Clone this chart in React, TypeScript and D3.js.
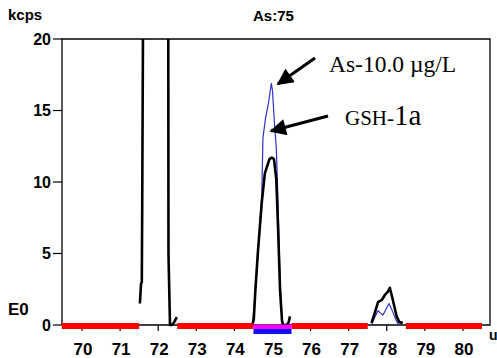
import React from "react";
import * as d3 from "d3";

// mass (u) / kcps pairs, one array per acquisition window
const gshWindow72: [number, number][] = [
  [71.52, 1.5], [71.55, 2.9], [71.57, 3.0], [71.58, 8], [71.6, 20], [71.62, 30],
  [72.24, 30], [72.265, 20], [72.27, 5], [72.31, 0], [72.36, 0], [72.42, 0.2], [72.49, 0.55],
];
const gshWindow75: [number, number][] = [
  [74.47, 0], [74.51, 0.4], [74.55, 2.4], [74.62, 5.2], [74.72, 8.6], [74.8, 10.6],
  [74.92, 11.6], [74.98, 11.7], [75.04, 11.6], [75.1, 10.2], [75.15, 6.5], [75.2, 2.4],
  [75.25, 0.3], [75.28, 0], [75.36, 0], [75.42, 0.15], [75.46, 0.6],
];
const gshWindow78: [number, number][] = [
  [77.6, 0.15], [77.68, 0.8], [77.77, 1.6], [77.87, 1.75], [77.95, 2.1], [78.02, 2.3],
  [78.08, 2.6], [78.16, 1.75], [78.26, 0.6], [78.33, 0.2], [78.42, 0.15],
];
const asWindow75: [number, number][] = [
  [74.47, 0], [74.55, 2.2], [74.65, 6.2], [74.72, 9.2], [74.75, 13.1], [74.82, 14.5],
  [74.9, 15.6], [74.97, 16.9], [75.0, 16.4], [75.05, 14.2], [75.1, 12.4], [75.14, 9.2],
  [75.2, 3.0], [75.26, 0], [75.3, 0],
];
const asWindow78: [number, number][] = [
  [77.6, 0], [77.68, 0.5], [77.77, 1.0], [77.83, 0.85], [77.9, 0.7], [77.98, 1.1],
  [78.06, 1.5], [78.16, 0.9], [78.22, 0.5], [78.27, 0.2], [78.32, 0],
];

const redWindows: [number, number][] = [[69.47, 71.5], [72.5, 74.5], [75.5, 77.5], [78.5, 80.5]];
const integrationWindow: [number, number] = [74.5, 75.5];

const xTicks = [70, 71, 72, 73, 74, 75, 76, 77, 78, 79, 80];
const yTicks = [0, 5, 10, 15, 20];

const W = 497;
const H = 358;
const left = 62;
const right = 490;
const top = 39;
const bottom = 325;

export default function App() {
  const x = d3.scaleLinear().domain([69.475, 80.71]).range([left, right]);
  const y = d3.scaleLinear().domain([0, 20]).range([bottom, top]);
  const line = d3
    .line<[number, number]>()
    .x((d) => x(d[0]))
    .y((d) => y(d[1]));

  const sans = "'Liberation Sans', Arial, sans-serif";
  const serif = "'Liberation Serif', 'Times New Roman', serif";

  return (
    <svg
      width={W}
      height={H}
      style={{ position: "absolute", left: 0, top: 0, background: "#fff" }}
    >
      <defs>
        <clipPath id="plot">
          <rect x={left} y={top} width={right - left} height={bottom - top + 2} />
        </clipPath>
        <marker id="head" viewBox="0 0 10 10" refX="9" refY="5" markerWidth="6" markerHeight="5.5" orient="auto" markerUnits="strokeWidth">
          <path d="M0,0 L10,5 L0,10 z" fill="#000" />
        </marker>
      </defs>

      <text x={8} y={20} fontFamily={sans} fontWeight="bold" fontSize={15}>kcps</text>
      <text x={253} y={21} fontFamily={sans} fontWeight="bold" fontSize={15}>As:75</text>
      <text x={8} y={315} fontFamily={sans} fontWeight="bold" fontSize={17}>E0</text>

      {/* frame */}
      <path d={`M${left},${bottom}V${top}H${right}V${bottom}H${left}`} fill="none" stroke="#000" strokeWidth={1.3} />

      {yTicks.map((t) => (
        <g key={t}>
          <line x1={53} x2={left} y1={y(t)} y2={y(t)} stroke="#000" strokeWidth={1.2} />
          <text x={51} y={y(t) + 5.5} textAnchor="end" fontFamily={sans} fontWeight="bold" fontSize={16}>
            {t}
          </text>
        </g>
      ))}
      {xTicks.map((t) => (
        <g key={t}>
          <line x1={x(t)} x2={x(t)} y1={bottom} y2={bottom + 6} stroke="#000" strokeWidth={1.2} />
          <text x={x(t) + 1} y={355} textAnchor="middle" fontFamily={sans} fontWeight="bold" fontSize={17}>
            {t}
          </text>
        </g>
      ))}
      <text x={489} y={340} fontFamily={sans} fontWeight="bold" fontSize={14}>u</text>

      <g clipPath="url(#plot)" fill="none" strokeLinejoin="round">
        {[asWindow75, asWindow78].map((d, i) => (
          <path key={"as" + i} d={line(d) ?? ""} stroke="#3030c8" strokeWidth={1.2} />
        ))}
        {[gshWindow72, gshWindow75, gshWindow78].map((d, i) => (
          <path key={"gsh" + i} d={line(d) ?? ""} stroke="#000" strokeWidth={2.6} />
        ))}
      </g>

      {redWindows.map(([a, b], i) => (
        <rect key={i} x={x(a)} y={323} width={x(b) - x(a)} height={6} fill="#ff0000" />
      ))}
      <rect x={x(integrationWindow[0])} y={329} width={x(integrationWindow[1]) - x(integrationWindow[0])} height={5} fill="#1010ee" />
      <rect x={x(integrationWindow[0])} y={324.5} width={x(integrationWindow[1]) - x(integrationWindow[0])} height={4.5} fill="#ff00ff" />

      {/* annotations */}
      <line x1={315} y1={58} x2={278} y2={84} stroke="#000" strokeWidth={3} markerEnd="url(#head)" />
      <line x1={328} y1={116} x2={271} y2={131} stroke="#000" strokeWidth={3} markerEnd="url(#head)" />
      <text x={329} y={72} fontFamily={serif} fontSize={23.5}>As-10.0 µg/L</text>
      <text x={345} y={125} fontFamily={serif} fontSize={21}>
        GSH-<tspan fontSize={29}>1a</tspan>
      </text>
    </svg>
  );
}
